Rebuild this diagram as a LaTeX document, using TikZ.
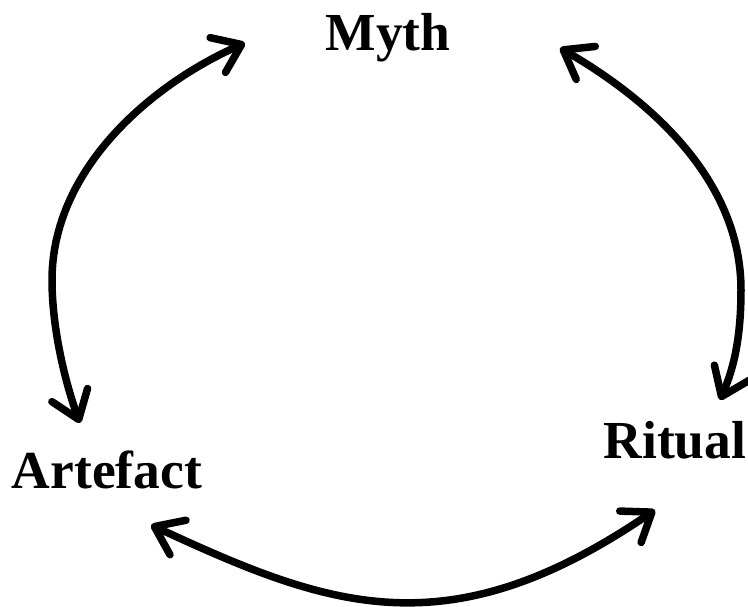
\documentclass[tikz,border=0pt]{standalone}
\usepackage{fontspec}
\setmainfont{Liberation Serif}
\usetikzlibrary{arrows.meta}
\begin{document}
\begin{tikzpicture}[x=1pt,y=-1pt,
  label/.style={font=\bfseries\fontsize{53.5}{60}\selectfont, inner sep=0pt, anchor=base},
  cyc/.style={line width=7.5pt, line cap=round, line join=round,
    {Straight Barb[length=26pt,width=38pt,line cap=round,line join=round]}-{Straight Barb[length=26pt,width=38pt,line cap=round,line join=round]}}]
\useasboundingbox (0,0) rectangle (748,606);
\node[label] (myth) at (388,50) {Myth};
\node[label] (ritual) at (675,458) {Ritual};
\node[label] (artefact) at (107,488) {Artefact};
% arrow end points
\coordinate (mL) at (245,43);
\coordinate (aT) at (80,423);
\coordinate (mR) at (560,48);
\coordinate (rT) at (720,400);
\coordinate (aB) at (151,525);
\coordinate (rB) at (655,510);
\draw[cyc] (mL) .. controls (150,85) and (52,170) .. (52,280)
  .. controls (52,330) and (66,385) .. (aT);
\draw[cyc] (mR) .. controls (650,100) and (741,180) .. (741,290)
  .. controls (741,340) and (733,370) .. (rT);
\draw[cyc] (aB) .. controls (328,607) and (447,652) .. (rB);
\end{tikzpicture}
\end{document}
